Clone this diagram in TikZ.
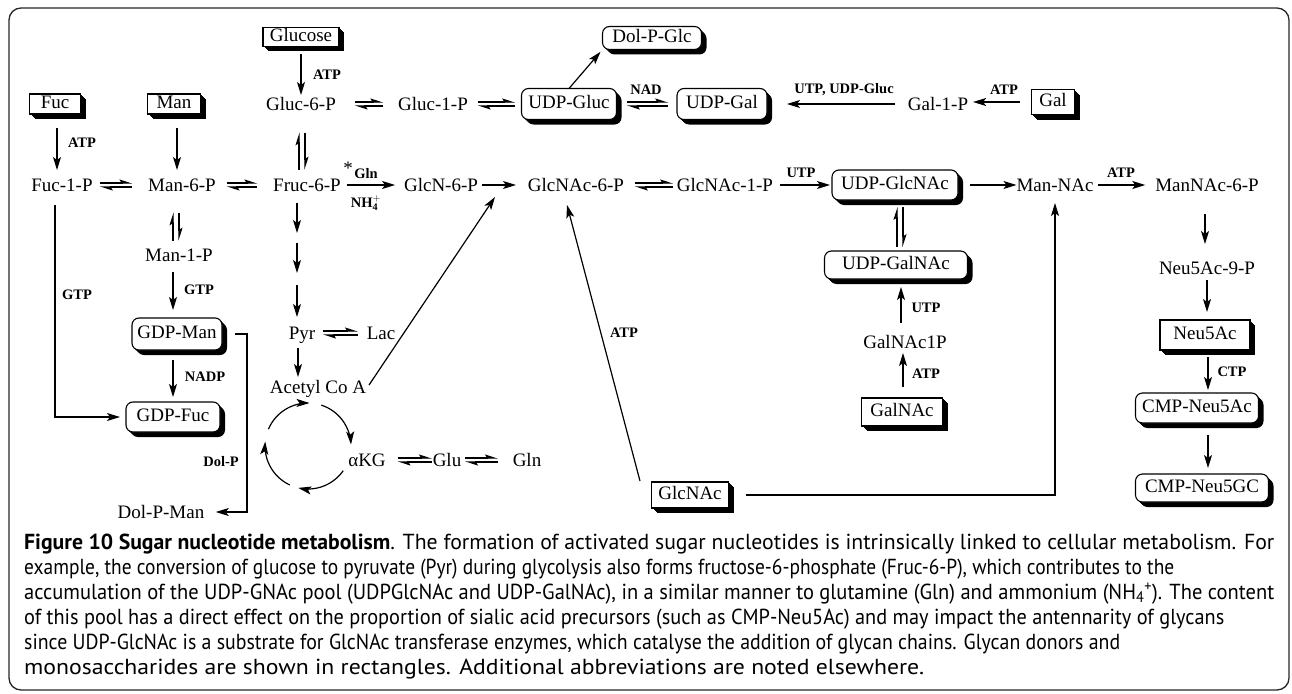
\documentclass[tikz,border=0pt]{standalone}
\usepackage{fontspec}
\usepackage{graphicx}
\setmainfont{Liberation Serif}
\newfontfamily\capfont{PT Sans}
\usetikzlibrary{arrows.meta,shadows}
\newlength\capw
\newcommand\myeqh[4]{%
  \draw[hr, shorten <=#3, shorten >=#4] ([yshift=2pt]#1.east) -- ([yshift=2pt]#2.west);
  \draw[hr, shorten <=#4, shorten >=#3] ([yshift=-2pt]#2.west) -- ([yshift=-2pt]#1.east);}
\newcommand\myeqv[6]{%
  \draw[hr, shorten <=#6, shorten >=#5] (#3,0 |- #2.north) -- (#3,0 |- #1.south);
  \draw[hr, shorten <=#5, shorten >=#6] (#4,0 |- #1.south) -- (#4,0 |- #2.north);}
\newcommand\capline[2]{\resizebox{#1}{\height}{#2}}
\begin{document}
\settowidth\capw{\capfont\fontsize{10}{12}\selectfont\textbf{Figure 10 Sugar nucleotide metabolism}. The formation of activated sugar nucleotides is intrinsically linked to cellular metabolism. For}%
\pgfmathsetmacro\capsz{10*1250/\capw}%
\begin{tikzpicture}[x=1pt,y=-1pt]
\tikzset{
  txt/.style={font=\fontsize{19}{22}\selectfont, inner sep=0pt, outer sep=0pt, text height=13pt, text depth=0pt},
  lab/.style={font=\fontsize{14.5}{16}\selectfont\bfseries, inner sep=0pt},
  shd/.style={
    general shadow={fill=black,shadow xshift=1pt,shadow yshift=-1pt},
    general shadow={fill=black,shadow xshift=2pt,shadow yshift=-2pt},
    general shadow={fill=black,shadow xshift=3pt,shadow yshift=-3pt},
    general shadow={fill=black,shadow xshift=4pt,shadow yshift=-4pt},
    general shadow={fill=black,shadow xshift=5pt,shadow yshift=-5pt}},
  mbox/.style={txt, draw, fill=white, line width=1.1pt, text depth=4pt, inner xsep=2pt, inner ysep=0pt, shd},
  dbox/.style={mbox, rounded corners=7pt},
  arr/.style={line width=1.2pt, -{Stealth[length=13pt,width=8pt,inset=3pt]}},
  hr/.style={line width=1.1pt, -{Stealth[harpoon,length=11pt,width=7pt,inset=2pt]}},
  capt/.style={anchor=base west, inner sep=0pt, font=\capfont\fontsize{\capsz}{\capsz}\selectfont},
  frame/.style={line width=1.3pt, rounded corners=12pt, draw=black!85}
}
\useasboundingbox (0,0) rectangle (1292,693);
\draw[frame] (9,8) rectangle (1289,690);

% monosaccharide boxes
\node[mbox, minimum width=76pt, minimum height=19pt] (glucose) at (301,37) {Glucose};
\node[mbox, minimum width=51pt, minimum height=20pt] (fuc) at (55,104) {Fuc};
\node[mbox, minimum width=53pt, minimum height=20pt] (man) at (174,104) {Man};
\node[mbox, minimum width=43pt, minimum height=25pt] (gal) at (1053,102) {Gal};
\node[mbox, minimum width=77pt, minimum height=26pt] (glcnac) at (690,495) {GlcNAc};
\node[mbox, minimum width=81pt, minimum height=28pt] (galnac) at (902,412) {GalNAc};
\node[mbox, minimum width=90pt, minimum height=30pt] (neu5ac) at (1205,335) {Neu5Ac};

% donor boxes
\node[dbox, minimum width=95pt, minimum height=31pt] (udpgluc) at (569,104) {UDP-Gluc};
\node[dbox, minimum width=99pt, minimum height=23pt] (dolpglc) at (652,38) {Dol-P-Glc};
\node[dbox, minimum width=90pt, minimum height=31pt] (udpgal) at (722,104) {UDP-Gal};
\node[dbox, minimum width=126pt, minimum height=30pt] (udpglcnac) at (895,185) {UDP-GlcNAc};
\node[dbox, minimum width=143pt, minimum height=28pt] (udpgalnac) at (896,265) {UDP-GalNAc};
\node[dbox, minimum width=90pt, minimum height=32pt] (gdpman) at (177,334) {GDP-Man};
\node[dbox, minimum width=94pt, minimum height=30pt] (gdpfuc) at (173,417) {GDP-Fuc};
\node[dbox, minimum width=123pt, minimum height=30pt] (cmpneu5ac) at (1197,408) {CMP-Neu5Ac};
\node[dbox, minimum width=133pt, minimum height=28pt] (cmpneu5gc) at (1202,488) {CMP-Neu5GC};

% metabolites
\node[txt] (gluc6p) at (301,104) {Gluc-6-P};
\node[txt] (gluc1p) at (433,104) {Gluc-1-P};
\node[txt] (gal1p) at (938,104) {Gal-1-P};
\node[txt] (fuc1p) at (62,185) {Fuc-1-P};
\node[txt] (man6p) at (182,185) {Man-6-P};
\node[txt] (fruc6p) at (307,185) {Fruc-6-P};
\node[txt] (glcn6p) at (441,185) {GlcN-6-P};
\node[txt] (glcnac6p) at (576,185) {GlcNAc-6-P};
\node[txt] (glcnac1p) at (725,185) {GlcNAc-1-P};
\node[txt] (mannac) at (1055,185) {Man-NAc};
\node[txt] (mannac6p) at (1207,185) {ManNAc-6-P};
\node[txt] (man1p) at (179,255) {Man-1-P};
\node[txt] (neu9p) at (1207,268) {Neu5Ac-9-P};
\node[txt] (galnac1p) at (905,342) {GalNAc1P};
\node[txt] (pyr) at (302,333) {Pyr};
\node[txt] (lac) at (381,333) {Lac};
\node[txt] (acoa) at (318,387) {Acetyl Co A};
\node[txt] (akg) at (367,460) {αKG};
\node[txt] (glu) at (447,460) {Glu};
\node[txt] (gln) at (527,460) {Gln};
\node[txt] (dolpman) at (161,512) {Dol-P-Man};

% free ends
\coordinate (c1) at (297,238);
\coordinate (c2) at (297,279);
\coordinate (tgtA) at (495,197);
\coordinate (tgtB) at (567,205);
\coordinate (srcB) at (640,481);

% equilibria
\myeqh{gluc6p}{gluc1p}{19pt}{15pt}
\myeqh{gluc1p}{udpgluc}{10pt}{6.5pt}
\myeqh{udpgluc}{udpgal}{10.5pt}{9pt}
\myeqh{fuc1p}{man6p}{7.4pt}{16pt}
\myeqh{man6p}{fruc6p}{11pt}{16pt}
\myeqh{glcnac6p}{glcnac1p}{11pt}{4pt}
\myeqh{pyr}{lac}{8pt}{9pt}
\myeqh{akg}{glu}{12pt}{1pt}
\myeqh{glu}{gln}{4pt}{15pt}
\myeqv{gluc6p}{fruc6p}{299}{305}{22pt}{9pt}
\myeqv{man6p}{man1p}{173}{179}{21pt}{8pt}
\myeqv{udpglcnac}{udpgalnac}{897}{903}{7pt}{4pt}

% single arrows
\draw[arr, shorten <=8pt, shorten >=2.5pt] (glucose) -- (gluc6p);
\draw[arr, shorten <=14pt, shorten >=8.5pt] (57,0 |- fuc.south) -- (57,0 |- fuc1p.north);
\draw[arr, shorten <=14pt, shorten >=8.5pt] (177,0 |- man.south) -- (177,0 |- man6p.north);
\draw[arr, shorten <=6pt, shorten >=9pt] (fruc6p) -- (glcn6p);
\draw[arr, shorten <=4pt, shorten >=12pt] (glcn6p) -- (glcnac6p);
\draw[arr, shorten <=7pt, shorten >=2pt] (glcnac1p) -- (udpglcnac);
\draw[arr, shorten <=12pt] (udpglcnac) -- (mannac);
\draw[arr, shorten <=4.5pt, shorten >=10pt] (mannac) -- (mannac6p);
\draw[arr, shorten <=22.5pt, shorten >=17.5pt] (1205,0 |- mannac6p.south) -- (1205,0 |- neu9p.north);
\draw[arr, shorten <=5.5pt, shorten >=8pt] (1207,0 |- neu9p.south) -- (1207,0 |- neu5ac.north);
\draw[arr, shorten <=7pt, shorten >=3pt] (1208,0 |- neu5ac.south) -- (1208,0 |- cmpneu5ac.north);
\draw[arr, shorten <=12pt, shorten >=6pt] (1208,0 |- cmpneu5ac.south) -- (1208,0 |- cmpneu5gc.north);
\draw[arr, shorten <=11pt, shorten >=4.5pt] (903,0 |- galnac.north) -- (903,0 |- galnac1p.south);
\draw[arr, shorten <=12.5pt, shorten >=8pt] (901,0 |- galnac1p.north) -- (901,0 |- udpgalnac.south);
\draw[arr, shorten <=10.5pt, shorten >=8pt] (173,0 |- man1p.south) -- (173,0 |- gdpman.north);
\draw[arr, shorten <=10pt, shorten >=5pt] (173,0 |- gdpman.south) -- (173,0 |- gdpfuc.north);
\draw[arr, shorten <=13.5pt, shorten >=6pt] (55,0 |- fuc1p.south) |- (gdpfuc.west);
\draw[arr, shorten <=13pt, shorten >=11.5pt] (gdpman.east) -- (247,0 |- gdpman.east) -- (247,0 |- dolpman.east) -- (dolpman.east);
\draw[arr, shorten <=11.5pt, shorten >=5pt] (gal.west) -- (gal.west -| gal1p.east);
\draw[arr, shorten <=13pt, shorten >=20pt] (gal1p.west) -- (gal1p.west -| udpgal.east);
\draw[arr, shorten >=3pt] (udpgluc.north) -- (dolpglc.south west);
\draw[arr, shorten <=11.5pt, shorten >=5pt] (297,0 |- fruc6p.south) -- (c1);
\draw[arr, shorten <=5pt, shorten >=6pt] (c1) -- (c2);
\draw[arr, shorten <=6pt, shorten >=9.5pt] (c2) -- (297,0 |- pyr.north);
\draw[arr, shorten <=8.5pt, shorten >=3.5pt] (298,0 |- pyr.south) -- (298,0 |- acoa.north);
\draw[arr] ([xshift=3pt,yshift=2pt]acoa.east) -- (tgtA);
\draw[arr] (srcB) -- (tgtB);
\draw[arr, shorten >=11.5pt] ([xshift=17pt]glcnac.east) -| (mannac.south);

% TCA cycle
\draw[arr] plot[domain=157:88, samples=24] ({308+43*cos(\x)},{446-43*sin(\x)});
\draw[arr] plot[domain=72:2, samples=24] ({308+43*cos(\x)},{446-43*sin(\x)});
\draw[arr] plot[domain=-35:-103, samples=24] ({308+43*cos(\x)},{446-43*sin(\x)});
\draw[arr] plot[domain=-115:-186, samples=24] ({308+43*cos(\x)},{446-43*sin(\x)});

% labels
\node[lab] (l1) at (327,75) {ATP};
\node[lab] (l2) at (82,143) {ATP};
\node[lab] (l3) at (77,295) {GTP};
\node[lab] (l4) at (199,290) {GTP};
\node[lab] (l5) at (205,377) {NADP};
\node[lab] (l6) at (221,462) {Dol-P};
\node[lab] (l7) at (366,174) {Gln};
\node[lab] (l8) at (366,203) {NH$_{\mathbf{4}}^{\mathbf{+}}$};
\node[txt, text height=8pt] (l9) at (348,170) {*};
\node[lab] (l10) at (646,90) {NAD};
\node[lab] (l11) at (844,90) {UTP, UDP-Gluc};
\node[lab] (l12) at (1004,90) {ATP};
\node[lab] (l13) at (801,173) {UTP};
\node[lab] (l14) at (1121,173) {ATP};
\node[lab] (l15) at (624,333) {ATP};
\node[lab] (l16) at (926,308) {UTP};
\node[lab] (l17) at (926,374) {ATP};
\node[lab] (l18) at (1232,372) {CTP};

% caption
\node[capt] (cap1) at (24,549) {\capline{1250pt}{\textbf{Figure 10 Sugar nucleotide metabolism}. The formation of activated sugar nucleotides is intrinsically linked to cellular metabolism. For}};
\node[capt] (cap2) at (24,574) {\capline{1150pt}{example, the conversion of glucose to pyruvate (Pyr) during glycolysis also forms fructose-6-phosphate (Fruc-6-P), which contributes to the}};
\node[capt] (cap3) at (24,599) {\capline{1250pt}{accumulation of the UDP-GNAc pool (UDPGlcNAc and UDP-GalNAc), in a similar manner to glutamine (Gln) and ammonium (NH\textsubscript{4}\textsuperscript{+}). The content}};
\node[capt] (cap4) at (24,624) {\capline{1200pt}{of this pool has a direct effect on the proportion of sialic acid precursors (such as CMP-Neu5Ac) and may impact the antennarity of glycans}};
\node[capt] (cap5) at (24,649) {\capline{1096pt}{since UDP-GlcNAc is a substrate for GlcNAc transferase enzymes, which catalyse the addition of glycan chains. Glycan donors and}};
\node[capt] (cap6) at (24,674) {\capline{900pt}{monosaccharides are shown in rectangles. Additional abbreviations are noted elsewhere.}};
\end{tikzpicture}
\end{document}
